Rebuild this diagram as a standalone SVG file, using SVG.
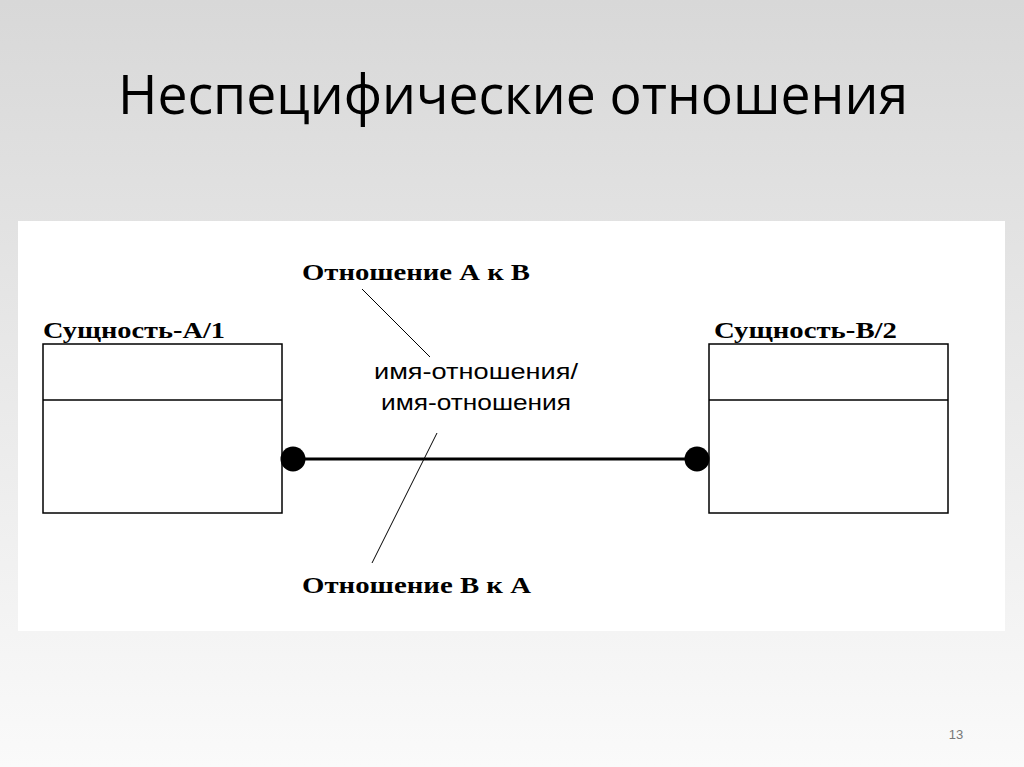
<svg xmlns="http://www.w3.org/2000/svg" width="1024" height="767" viewBox="0 0 1024 767">
<defs>
<linearGradient id="bg" x1="0" y1="0" x2="0" y2="1">
<stop offset="0" stop-color="#d8d8d8"/>
<stop offset="1" stop-color="#fafafa"/>
</linearGradient>
<style>
.ent{fill:#fff;stroke:#000;stroke-width:1.5}
.lbl{font-family:"Liberation Serif",serif;font-weight:bold;font-size:23px;fill:#000}
.nm{font-family:"Liberation Sans",sans-serif;font-size:22px;fill:#000}
.lead{stroke:#000;stroke-width:1;fill:none}
</style>
</defs>
<rect width="1024" height="767" fill="url(#bg)"/>
<text x="118" y="114" font-family="Open Sans, sans-serif" font-size="55" textLength="790" lengthAdjust="spacingAndGlyphs" fill="#000">Неспецифические отношения</text>
<rect x="18" y="221" width="987" height="410" fill="#fff"/>
<g id="entityA">
<text class="lbl" x="43" y="338" textLength="182" lengthAdjust="spacingAndGlyphs">Сущность-А/1</text>
<rect class="ent" x="43" y="344" width="239" height="169"/>
<line class="ent" x1="43" y1="400" x2="282" y2="400"/>
</g>
<g id="entityB">
<text class="lbl" x="714" y="338" textLength="183" lengthAdjust="spacingAndGlyphs">Сущность-В/2</text>
<rect class="ent" x="709" y="344" width="239" height="169"/>
<line class="ent" x1="709" y1="400" x2="948" y2="400"/>
</g>
<g id="connectors">
<line x1="293" y1="459" x2="697" y2="459" stroke="#000" stroke-width="3"/>
<circle cx="293" cy="459" r="12.5" fill="#000"/>
<circle cx="697" cy="459" r="12.5" fill="#000"/>
<line class="lead" x1="362" y1="289" x2="430" y2="357"/>
<line class="lead" x1="437" y1="433" x2="372" y2="563"/>
</g>
<g id="labels">
<text class="lbl" x="302" y="280" textLength="228" lengthAdjust="spacingAndGlyphs">Отношение А к В</text>
<text class="lbl" x="302" y="593" textLength="229" lengthAdjust="spacingAndGlyphs">Отношение В к А</text>
<text class="nm" x="476" y="379" text-anchor="middle" textLength="204" lengthAdjust="spacingAndGlyphs">имя-отношения/</text>
<text class="nm" x="476" y="410" text-anchor="middle" textLength="190" lengthAdjust="spacingAndGlyphs">имя-отношения</text>
</g>
<text x="956" y="739" font-family="Liberation Sans, sans-serif" font-size="13" fill="#777" text-anchor="middle">13</text>
</svg>
